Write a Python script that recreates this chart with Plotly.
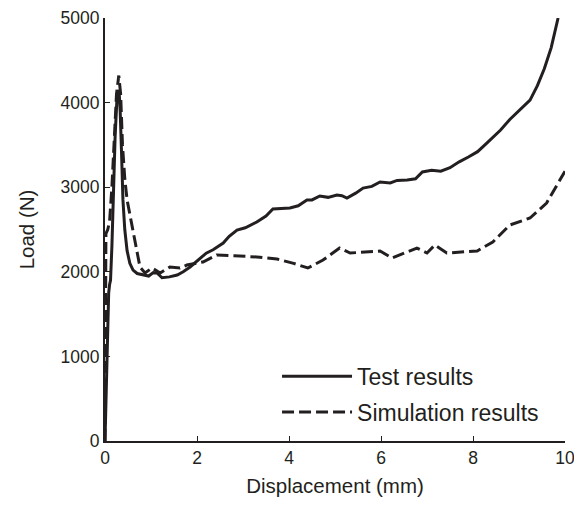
import plotly.graph_objects as go

# Test results (solid)
test_x = [0, 0.03, 0.06, 0.08, 0.1, 0.12, 0.15, 0.18, 0.22, 0.26, 0.29, 0.31, 0.33, 0.36, 0.39, 0.43,
          0.48, 0.54, 0.61, 0.7, 0.83, 0.95, 1.05, 1.13, 1.24, 1.4, 1.57, 1.7, 1.85, 2.07, 2.2, 2.35,
          2.57, 2.7, 2.87, 3.05, 3.3, 3.5, 3.65, 4.02, 4.2, 4.39, 4.5, 4.67, 4.85, 5.04, 5.15, 5.26,
          5.45, 5.61, 5.8, 5.98, 6.2, 6.35, 6.57, 6.75, 6.9, 7.1, 7.3, 7.5, 7.7, 7.9, 8.1, 8.3, 8.6,
          8.8, 9.0, 9.24, 9.4, 9.55, 9.7, 9.78, 9.85]
test_y = [0, 800, 1500, 1750, 1850, 1900, 2300, 2900, 3600, 4050, 4150, 4100, 3900, 3400, 2850, 2500,
          2250, 2100, 2020, 1980, 1962, 1950, 1990, 1986, 1930, 1940, 1962, 2000, 2057, 2163, 2220, 2260,
          2340, 2420, 2494, 2520, 2589, 2660, 2742, 2754, 2780, 2849, 2850, 2896, 2880, 2908, 2900, 2872,
          2930, 2990, 3010, 3061, 3050, 3080, 3085, 3100, 3180, 3200, 3190, 3230, 3300, 3357, 3420, 3520,
          3676, 3800, 3900, 4030, 4200, 4400, 4650, 4858, 5000]

# Simulation results (dashed)
sim_x = [0, 0.02, 0.06, 0.1, 0.15, 0.2, 0.25, 0.3, 0.34, 0.38, 0.43, 0.48, 0.55, 0.61, 0.68, 0.76, 0.87,
         1.02, 1.2, 1.41, 1.63, 1.78, 2.13, 2.43, 2.8, 3.3, 3.74, 4.1, 4.41, 4.74, 5.1, 5.33, 5.98, 6.24,
         6.78, 7.0, 7.17, 7.43, 8.09, 8.43, 8.8, 9.24, 9.6, 9.9, 10.0]
sim_y = [0, 2450, 2500, 2600, 3000, 3600, 4100, 4320, 4100, 3500, 3100, 2850, 2650, 2459, 2250, 2057, 1986,
         2045, 1986, 2057, 2045, 2080, 2116, 2199, 2190, 2175, 2151, 2100, 2045, 2139, 2281, 2222, 2246, 2163,
         2281, 2222, 2317, 2222, 2246, 2352, 2553, 2636, 2813, 3085, 3190]

x_ticks = [0, 2, 4, 6, 8, 10]
y_ticks = [0, 1000, 2000, 3000, 4000, 5000]

ink = "#231f20"
font = "Liberation Sans, Arial, sans-serif"

fig = go.Figure()
fig.add_trace(go.Scatter(x=test_x, y=test_y, mode="lines", name="Test results", legendgroup="a",
                         line=dict(color=ink, width=3)))
fig.add_trace(go.Scatter(x=sim_x, y=sim_y, mode="lines", name="Simulation results", legendgroup="b",
                         line=dict(color=ink, width=3, dash="12px,5px")))

# The page body has an 8px margin, so the figure is sized to fit inside the window.
fig.update_layout(
    width=568, height=492,
    margin=dict(l=97, r=11, t=10, b=59, autoexpand=False),
    paper_bgcolor="white", plot_bgcolor="white",
    font=dict(family=font, color=ink, size=17),
    showlegend=True,
    legend=dict(x=0.374, y=0.204, xanchor="left", yanchor="top", bgcolor="rgba(0,0,0,0)",
                font=dict(size=23, family=font, color=ink), itemwidth=70, tracegroupgap=3),
    xaxis=dict(range=[0, 10], tickvals=x_ticks, ticks="inside", ticklen=5, tickcolor=ink,
               showline=True, linecolor=ink, linewidth=2, showgrid=False, zeroline=False,
               automargin=False,
               title=dict(text="Displacement (mm)", font=dict(size=20.5), standoff=12),
               tickfont=dict(size=17.5)),
    yaxis=dict(range=[0, 5000], tickvals=y_ticks, ticks="inside", ticklen=5, tickcolor=ink,
               showline=True, linecolor=ink, linewidth=2, showgrid=False, zeroline=False,
               automargin=False,
               title=dict(text="Load (N)", font=dict(size=20.5), standoff=20),
               tickfont=dict(size=17.5)),
)

fig.write_html("out.html")
